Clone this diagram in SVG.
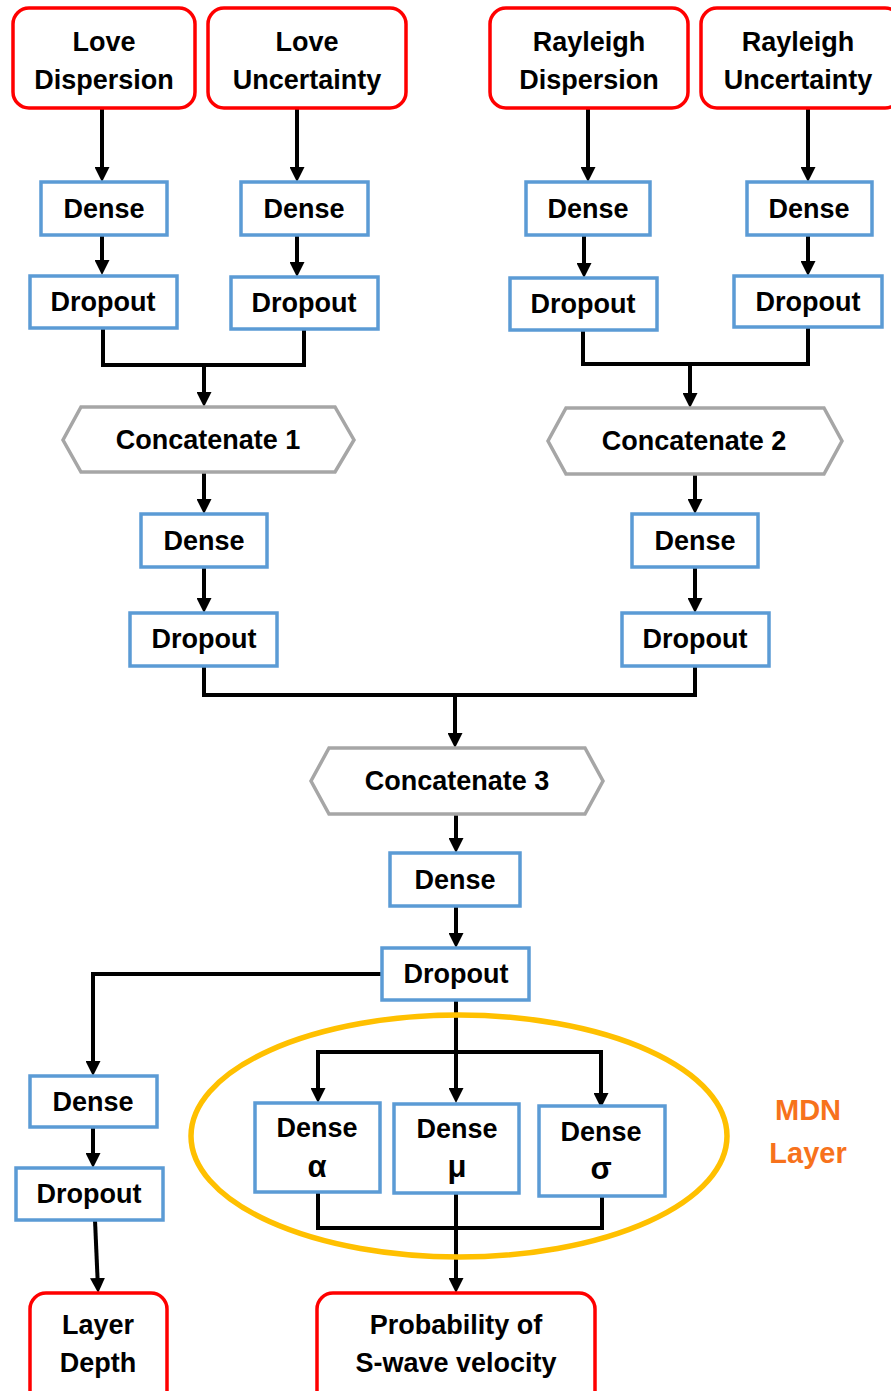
<svg xmlns="http://www.w3.org/2000/svg" width="891" height="1391" viewBox="0 0 891 1391">
<defs>
<marker id="ah" markerUnits="userSpaceOnUse" markerWidth="15" markerHeight="15" refX="11" refY="7.5" orient="auto">
<path d="M0,0 L15,7.5 L0,15 z" fill="#000"/>
</marker>
<style>
.io{fill:#fff;stroke:#FF0000;stroke-width:3.5}
.ly{fill:#fff;stroke:#5B9BD5;stroke-width:3.5}
.cc{fill:#fff;stroke:#A6A6A6;stroke-width:3.5}
.t{font-family:"Liberation Sans",Arial,sans-serif;font-weight:bold;font-size:27px;fill:#000;text-anchor:middle}
.g{font-size:31px}
.c{fill:none;stroke:#000;stroke-width:4}
.a{marker-end:url(#ah)}
.mdn{font-family:"Liberation Sans",Arial,sans-serif;font-weight:bold;font-size:29px;fill:#F7721C;text-anchor:middle}
</style>
</defs>
<rect width="891" height="1391" fill="#fff"/>

<g id="connectors">
<path class="c a" d="M102,108 V178"/>
<path class="c a" d="M297,108 V178"/>
<path class="c a" d="M588,108 V178"/>
<path class="c a" d="M808,108 V178"/>
<path class="c a" d="M102,235 V271"/>
<path class="c a" d="M297,235 V273"/>
<path class="c a" d="M584,235 V274"/>
<path class="c a" d="M808,235 V272"/>
<path class="c" d="M103,328 V365 H304 V328"/>
<path class="c a" d="M204,365 V403"/>
<path class="c" d="M583,330 V364 H808 V327"/>
<path class="c a" d="M690,364 V404"/>
<path class="c a" d="M204,472 V510"/>
<path class="c a" d="M695,474 V510"/>
<path class="c a" d="M204,567 V609"/>
<path class="c a" d="M695,567 V609"/>
<path class="c" d="M204,666 V695 H695 V666"/>
<path class="c a" d="M455,695 V744"/>
<path class="c a" d="M456,814 V849"/>
<path class="c a" d="M456,906 V944"/>
<path class="c a" d="M382,974 H93 V1072"/>
<path class="c a" d="M93,1127 V1164"/>
<path class="c a" d="M95,1220 L98,1289"/>
<path class="c a" d="M456,1000 V1099"/>
<path class="c a" d="M456,1052 H318 V1099"/>
<path class="c a" d="M456,1052 H601 V1104"/>
<path class="c" d="M318,1192 V1228 H602 V1196"/>
<path class="c a" d="M456,1193 V1289"/>
</g>

<g id="mdn-layer">
<ellipse cx="459" cy="1136" rx="268" ry="121" fill="none" stroke="#FFC000" stroke-width="5.5"/>
<text class="mdn" x="808" y="1120">MDN</text>
<text class="mdn" x="808" y="1163">Layer</text>
</g>

<g id="love-dispersion">
<rect class="io" x="13" y="8" width="182" height="100" rx="16"/>
<text class="t" x="104" y="51">Love</text>
<text class="t" x="104" y="89">Dispersion</text>
</g>
<g id="love-uncertainty">
<rect class="io" x="208" y="8" width="198" height="100" rx="16"/>
<text class="t" x="307" y="51">Love</text>
<text class="t" x="307" y="89">Uncertainty</text>
</g>
<g id="rayleigh-dispersion">
<rect class="io" x="490" y="8" width="198" height="100" rx="16"/>
<text class="t" x="589" y="51">Rayleigh</text>
<text class="t" x="589" y="89">Dispersion</text>
</g>
<g id="rayleigh-uncertainty">
<rect class="io" x="701" y="8" width="200" height="100" rx="16"/>
<text class="t" x="798" y="51">Rayleigh</text>
<text class="t" x="798" y="89">Uncertainty</text>
</g>

<g id="dense-ld">
<rect class="ly" x="41" y="182" width="126" height="53"/>
<text class="t" x="104" y="218">Dense</text>
</g>
<g id="dense-lu">
<rect class="ly" x="241" y="182" width="127" height="53"/>
<text class="t" x="304" y="218">Dense</text>
</g>
<g id="dense-rd">
<rect class="ly" x="526" y="182" width="124" height="53"/>
<text class="t" x="588" y="218">Dense</text>
</g>
<g id="dense-ru">
<rect class="ly" x="747" y="182" width="125" height="53"/>
<text class="t" x="809" y="218">Dense</text>
</g>

<g id="dropout-ld">
<rect class="ly" x="30" y="276" width="147" height="52"/>
<text class="t" x="103" y="311">Dropout</text>
</g>
<g id="dropout-lu">
<rect class="ly" x="231" y="277" width="147" height="52"/>
<text class="t" x="304" y="312">Dropout</text>
</g>
<g id="dropout-rd">
<rect class="ly" x="510" y="278" width="147" height="52"/>
<text class="t" x="583" y="313">Dropout</text>
</g>
<g id="dropout-ru">
<rect class="ly" x="734" y="276" width="148" height="51"/>
<text class="t" x="808" y="311">Dropout</text>
</g>

<g id="concatenate-1">
<polygon class="cc" points="81,407 335,407 354,440 335,472 81,472 63,440"/>
<text class="t" x="208" y="449">Concatenate 1</text>
</g>
<g id="concatenate-2">
<polygon class="cc" points="566,408 824,408 842,441 824,474 566,474 548,441"/>
<text class="t" x="694" y="450">Concatenate 2</text>
</g>

<g id="dense-c1">
<rect class="ly" x="141" y="514" width="126" height="53"/>
<text class="t" x="204" y="550">Dense</text>
</g>
<g id="dense-c2">
<rect class="ly" x="632" y="514" width="126" height="53"/>
<text class="t" x="695" y="550">Dense</text>
</g>
<g id="dropout-c1">
<rect class="ly" x="130" y="613" width="147" height="53"/>
<text class="t" x="204" y="648">Dropout</text>
</g>
<g id="dropout-c2">
<rect class="ly" x="622" y="613" width="147" height="53"/>
<text class="t" x="695" y="648">Dropout</text>
</g>

<g id="concatenate-3">
<polygon class="cc" points="329,748 585,748 603,781 585,814 329,814 311,781"/>
<text class="t" x="457" y="790">Concatenate 3</text>
</g>

<g id="dense-c3">
<rect class="ly" x="390" y="853" width="130" height="53"/>
<text class="t" x="455" y="889">Dense</text>
</g>
<g id="dropout-c3">
<rect class="ly" x="382" y="948" width="147" height="52"/>
<text class="t" x="456" y="983">Dropout</text>
</g>

<g id="dense-depth">
<rect class="ly" x="30" y="1076" width="127" height="51"/>
<text class="t" x="93" y="1111">Dense</text>
</g>
<g id="dropout-depth">
<rect class="ly" x="16" y="1168" width="147" height="52"/>
<text class="t" x="89" y="1203">Dropout</text>
</g>

<g id="dense-alpha">
<rect class="ly" x="255" y="1103" width="125" height="89"/>
<text class="t" x="317" y="1137">Dense</text>
<text class="t g" x="317" y="1177">α</text>
</g>
<g id="dense-mu">
<rect class="ly" x="394" y="1104" width="125" height="89"/>
<text class="t" x="457" y="1138">Dense</text>
<text class="t g" x="457" y="1177">μ</text>
</g>
<g id="dense-sigma">
<rect class="ly" x="539" y="1106" width="126" height="90"/>
<text class="t" x="601" y="1141">Dense</text>
<text class="t g" x="601" y="1179">σ</text>
</g>

<g id="layer-depth">
<rect class="io" x="30" y="1293" width="137" height="115" rx="16"/>
<text class="t" x="98" y="1334">Layer</text>
<text class="t" x="98" y="1372">Depth</text>
</g>
<g id="probability">
<rect class="io" x="317" y="1293" width="278" height="115" rx="16"/>
<text class="t" x="456" y="1334">Probability of</text>
<text class="t" x="456" y="1372">S-wave velocity</text>
</g>
</svg>
